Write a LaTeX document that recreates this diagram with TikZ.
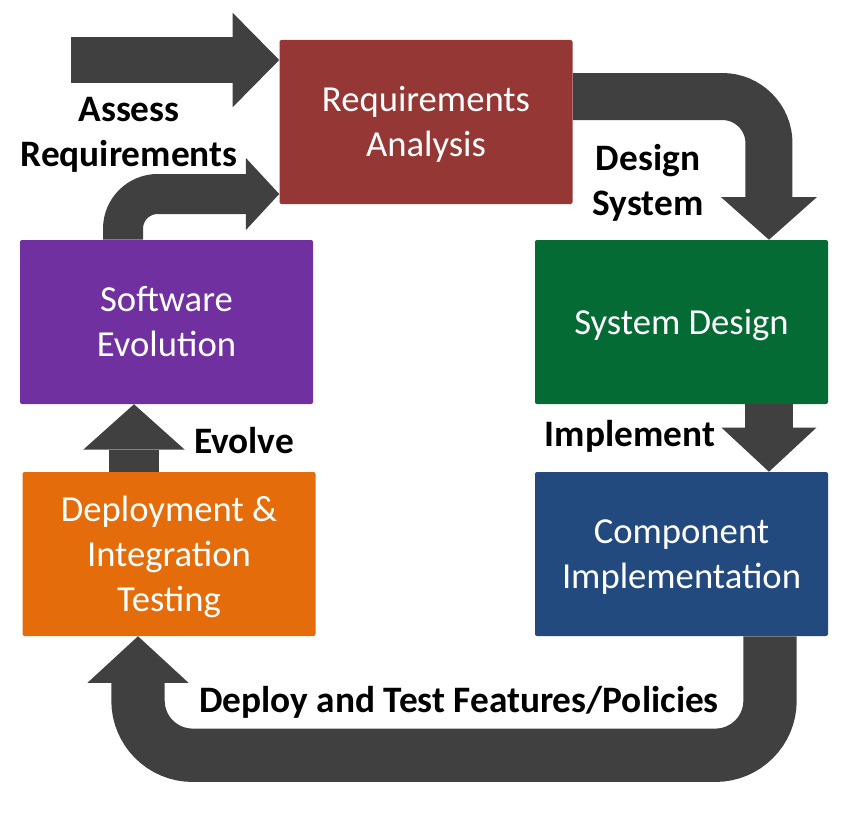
\documentclass[tikz,border=0pt]{standalone}
\usepackage{fontspec}
\setmainfont{Carlito}
\usetikzlibrary{arrows.meta}
\definecolor{cred}{HTML}{953735}
\definecolor{cgreen}{HTML}{036B33}
\definecolor{cblue}{HTML}{224A7E}
\definecolor{corange}{HTML}{E46C0A}
\definecolor{cpurple}{HTML}{7030A0}
\definecolor{agray}{HTML}{404040}
\newcommand{\boxtext}[1]{\raisebox{-2.5pt}[\height][\depth]{\begin{tabular}{@{}c@{}}#1\end{tabular}}}
\begin{document}
\begin{tikzpicture}[x=0.75pt,y=-0.75pt,
  box/.style={fill=#1, text=white, minimum width=219.75pt, minimum height=123pt,
    inner sep=0pt, rounded corners=1.5pt, align=center,
    font=\fontsize{27.5}{33.75}\selectfont},
  lbl/.style={align=center, text=black, inner sep=0pt,
    font=\fontsize{28}{33.75}\selectfont\bfseries},
  fat/.style={draw=agray, line width=#1, line cap=butt, line join=miter},
]
\useasboundingbox (0,0) rectangle (860,824);

% boxes
\node[box=cred]    (ra) at (426,122)   {\boxtext{Requirements\\Analysis}};
\node[box=cgreen]  (sd) at (681.5,322) {\boxtext{System Design}};
\node[box=cblue]   (ci) at (681.5,554) {\boxtext{Component\\Implementation}};
\node[box=corange] (dt) at (169,554)   {\boxtext{Deployment \&\\Integration\\Testing}};
\node[box=cpurple] (se) at (166.5,322) {\boxtext{Software\\Evolution}};

% arrows
\coordinate (as) at (71,60);
\draw[fat=34.5pt, -{Triangle[length=35pt,width=71pt,line width=0pt]}]
  (as) -- (as -| ra.west);

\draw[fat=30pt, rounded corners=26pt, -{Triangle[length=25pt,width=54pt,line width=0pt]}]
  ([xshift=-32.6pt]se.north) |- ([yshift=-54pt]ra.west);

\draw[fat=35.25pt, rounded corners=35pt, -{Triangle[length=32pt,width=72pt,line width=0pt]}]
  ([yshift=19.1pt]ra.east) -| ([xshift=65.6pt]sd.north);

\draw[fat=36pt, -{Triangle[length=33pt,width=71pt,line width=0pt]}]
  ([xshift=65.6pt]sd.south) -- ([xshift=65.6pt]ci.north);

\draw[fat=37.5pt, -{Triangle[length=34pt,width=76pt,line width=0pt]}]
  ([xshift=-26.25pt]dt.north) -- ([xshift=-26.25pt]dt.north |- se.south);

\draw[fat=40pt, rounded corners=41pt, -{Triangle[length=35pt,width=76pt,line width=0pt]}]
  ([xshift=66.4pt]ci.south) -- ++(0,119) -| ([xshift=-23.25pt]dt.south);

% labels
\node[lbl] (l1) at (129,135) {Assess\\Requirements};
\node[lbl] (l2) at (648,183) {Design\\System};
\node[lbl] (l3) at (630,436) {Implement};
\node[lbl] (l4) at (244,441) {Evolve};
\node[lbl] (l5) at (459,702) {Deploy and Test Features/Policies};
\end{tikzpicture}
\end{document}
